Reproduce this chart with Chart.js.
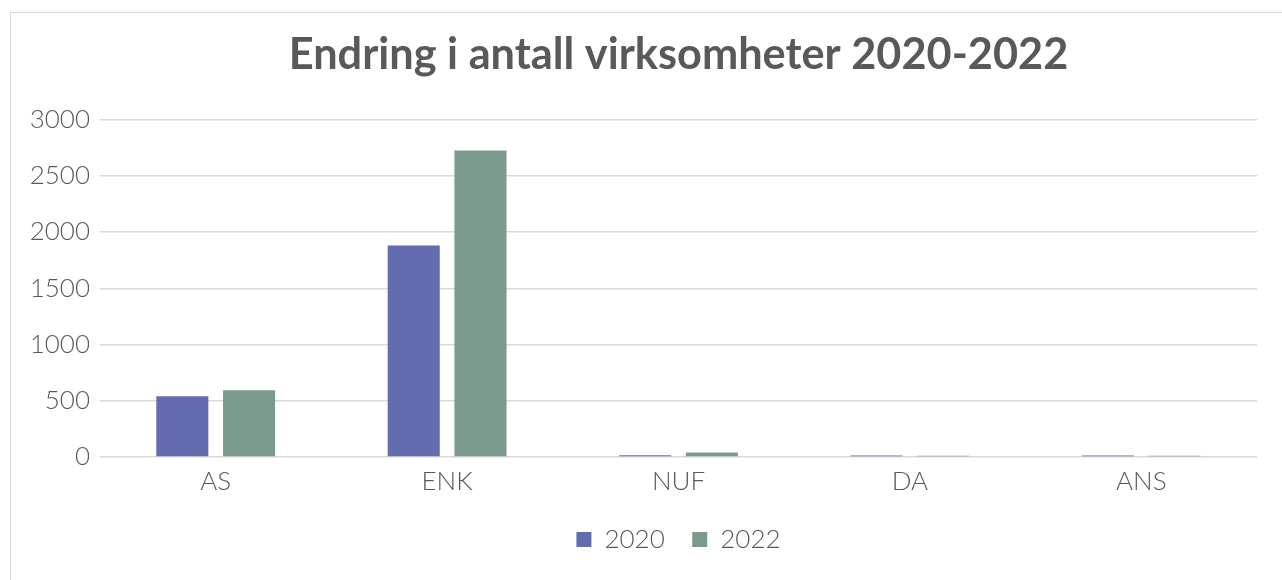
<!DOCTYPE html>
<html>
<head>
<meta charset="utf-8">
<script src="https://cdn.jsdelivr.net/npm/chart.js@4.4.1/dist/chart.umd.min.js"></script>
<style>
  html, body { margin: 0; padding: 0; background: #fff; }
  #frame { position: absolute; left: 10px; top: 12px; width: 1300px; height: 600px; border: 1px solid #d9d9d9; box-sizing: border-box; }
  #wrap { position: absolute; left: 0; top: 0; width: 1282px; height: 580px; }
</style>
</head>
<body>
<div id="frame"></div>
<div id="wrap"><canvas id="chart" width="1282" height="580"></canvas></div>
<script>
// values
const categories = ['AS', 'ENK', 'NUF', 'DA', 'ANS'];
const values2020 = [540, 1880, 15, 14, 14];
const values2022 = [594, 2725, 40, 12, 12];
const yTicks = [0, 500, 1000, 1500, 2000, 2500, 3000];

const textGrey = '#595959';

const ctx = document.getElementById('chart').getContext('2d');
new Chart(ctx, {
    type: 'bar',
    data: {
        labels: categories,
        datasets: [{
            label: '2020',
            data: values2020,
            backgroundColor: '#646cb0',
            categoryPercentage: 0.577,
            barPercentage: 0.78,
        },
        {
            label: '2022',
            data: values2022,
            backgroundColor: '#7a9a8c',
            categoryPercentage: 0.577,
            barPercentage: 0.78,
        }],
    },
    options: {
        responsive: false,
        animation: false,
        layout: {
            padding: { left: 0, right: 25, top: 0, bottom: 17.5 },
        },
        plugins: {
            title: {
                display: true,
                fullSize: false,
                text: 'Endring i antall virksomheter 2020-2022',
                color: textGrey,
                font: { family: 'Lato', size: 43.3, weight: 'bold' },
                padding: { top: 29, bottom: 38.7 },
            },
            legend: {
                position: 'bottom',
                fullSize: false,
                labels: {
                    color: textGrey,
                    font: { family: 'Lato', size: 26, weight: 300 },
                    boxWidth: 15,
                    boxHeight: 15,
                    padding: 27.5,
                },
            },
            tooltip: { enabled: false },
        },
        scales: {
            y: {
                min: 0,
                max: 3000,
                afterBuildTicks: (scale) => {
                    scale.ticks = yTicks.map(v => ({ value: v }));
                },
                afterFit: (scale) => {
                    scale.width = 100;
                },
                border: { display: false },
                grid: { color: '#d9d9d9', lineWidth: 1.5, drawTicks: false },
                ticks: {
                    color: textGrey,
                    padding: 10,
                    font: { family: 'Lato', size: 26, weight: 300 },
                    callback: (value) => String(value),
                },
            },
            x: {
                border: { display: false },
                grid: { display: false },
                ticks: {
                    color: textGrey,
                    padding: 6,
                    font: { family: 'Lato', size: 26, weight: 300, lineHeight: 0.846 },
                },
            },
        },
    },
});
</script>
</body>
</html>
